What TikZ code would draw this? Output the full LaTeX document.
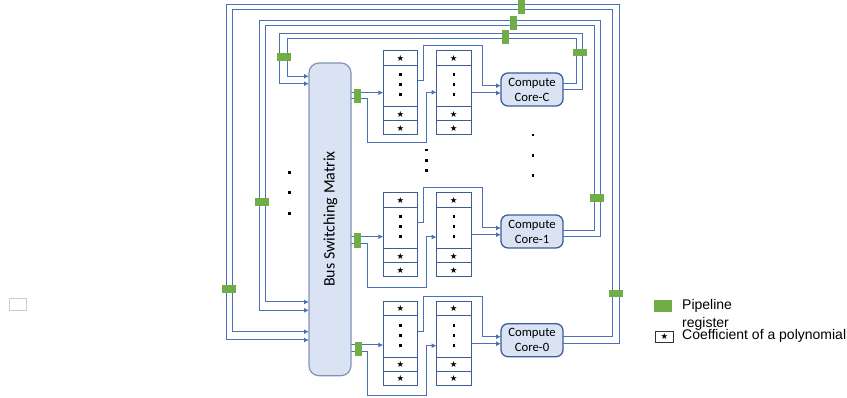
\documentclass[tikz,border=0pt]{standalone}
\usepackage{fontspec}
\setmainfont{Carlito}
\newfontfamily\arialf{Liberation Sans}
\newfontfamily\dejaf{DejaVu Sans}
\usetikzlibrary{arrows.meta,backgrounds}
\definecolor{wireblue}{HTML}{4A70BA}
\definecolor{boxblue}{HTML}{3E5C97}
\definecolor{corefill}{HTML}{DAE3F3}
\definecolor{busline}{HTML}{8093B5}
\definecolor{pipegreen}{HTML}{70AD47}
\tikzset{
  wire/.style={draw=wireblue,line width=1pt,line join=miter},
  arrowed/.style={-{Latex[length=5pt,width=5pt]}},
  cell/.style={draw=boxblue,fill=white,line width=1pt,inner sep=0pt,outer sep=0pt,minimum width=34.4pt,anchor=north west},
  starmark/.style={font=\dejaf\fontsize{8.5}{9}\selectfont,inner sep=0pt},
  dotmark/.style={fill=black,inner sep=0pt,minimum size=2.8pt,rectangle},
  reg/.style={fill=pipegreen,inner sep=0pt,outer sep=0pt},
  regv/.style={reg,minimum width=7pt,minimum height=14.4pt},
  regh/.style={reg,minimum width=14pt,minimum height=7.6pt},
  core/.style={draw=boxblue,fill=corefill,line width=1.3pt,rounded corners=7pt,minimum width=62pt,minimum height=33pt,inner sep=0pt,outer sep=0pt,anchor=north west,align=center,font=\fontsize{12.7}{15}\selectfont},
}
\begin{document}
\begin{tikzpicture}[x=1pt,y=-1pt]
\useasboundingbox (0,0) rectangle (847,398);
% stray box
\node[draw=black!20,fill=white,line width=1pt,minimum width=17pt,minimum height=12pt,inner sep=0pt,anchor=north west] (stray) at (8.5,298.3) {};
% bus
\node[draw=busline,fill=corefill,line width=1.2pt,rounded corners=10pt,minimum width=42pt,minimum height=312.7pt,inner sep=0pt,outer sep=0pt,anchor=north west] (bus) at (309,63) {};
\node[rotate=90,font=\fontsize{16}{18}\selectfont,inner sep=0pt] (buslabel) at (330.5,219) {Bus Switching Matrix};
% coefficient arrays
\foreach \b/\o in {C/0,M/142,Z/250.5}{
  \foreach \c/\x in {a/383.3,b/436.6}{
    \node[cell,minimum height=14.3pt] (\c\b1) at (\x,51+\o) {};
    \node[cell,minimum height=41.4pt] (\c\b2) at (\x,65.3+\o) {};
    \node[cell,minimum height=14pt]   (\c\b3) at (\x,106.7+\o) {};
    \node[cell,minimum height=14.3pt] (\c\b4) at (\x,120.7+\o) {};
    \node[starmark] (s\c\b1) at (\x+17.2,58.4+\o) {★};
    \node[starmark] (s\c\b3) at (\x+17.2,114+\o) {★};
    \node[starmark] (s\c\b4) at (\x+17.2,128.2+\o) {★};
    \node[dotmark] (d\c\b1) at (\x+17.4,74.7+\o) {};
    \node[dotmark] (d\c\b2) at (\x+17.4,84.7+\o) {};
    \node[dotmark] (d\c\b3) at (\x+17.4,94.7+\o) {};
  }
}
% cores
\node[core] (coreC) at (501,73) {Compute\\Core-C};
\node[core] (coreM) at (501,215) {Compute\\Core-1};
\node[core] (coreZ) at (501,323.7) {Compute\\Core-0};
% ellipsis dots
\foreach \n/\x/\y in {l1/289.3/172.3,l2/289.3/192.7,l3/289.3/213.3,m1/426.3/150,m2/426.3/160.3,m3/426.3/170.3,r1/533/135,r2/533/155.7,r3/533/175.7}
  \node[dotmark] (e\n) at (\x,\y) {};
% pipeline registers
\node[regv] (rT1) at (521.6,7) {};
\node[regv] (rT2) at (513.2,23) {};
\node[regv] (rT3) at (505.7,37.2) {};
\node[regh] (rRC) at (579.7,52.7) {};
\node[regh] (rLC) at (284,57.2) {};
\node[regh] (rLM) at (262,202.3) {};
\node[regh] (rLA) at (229,289) {};
\node[regh] (rRM) at (597,197.8) {};
\node[regh] (rRA) at (616.3,293.6) {};
\node[regv] (rBC) at (357.6,96.3) {};
\node[regv] (rBM) at (357.6,240.5) {};
\node[regv] (rBZ) at (358.3,349.2) {};
% legend
\node[reg,minimum width=18pt,minimum height=11.7pt,anchor=north west] (lgreen) at (654,300) {};
\node[anchor=north west,align=left,inner sep=0pt,font=\arialf\fontsize{14}{17.7}\selectfont] (ltext) at (682,299) {Pipeline\\register};
\node[draw=black!80,fill=white,line width=.9pt,minimum width=18pt,minimum height=11pt,inner sep=0pt,anchor=north west] (lbox) at (655,330.7) {};
\node[starmark] (lstar) at (lbox.center) {★};
\node[anchor=west,inner sep=0pt,font=\arialf\fontsize{14}{17}\selectfont] (lcoef) at (682,336) {Coefficient of a polynomial};
% port coordinates
\foreach \n/\x/\y in {
  oA/563/343.3,oB/563/336.3,oC/563/236.7,oD/563/230.3,oE/563/90,oF/563/83.7,
  iA/309/340,iB/309/331.7,iC/309/310.3,iD/309/302,iE/309/83.7,iF/309/76.3,
  bCa/351/92.7,bCb/351/98.7,bMa/351/236.7,bMb/351/243.3,bZa/351/345,bZb/351/351.7,
  pCa/383.3/92.7,pMa/383.3/236.7,pZa/383.3/345,
  qCb/436.6/92.3,qMb/436.6/237,qZb/436.6/345.7,
  uC/417.7/81,uM/417.7/222.7,uZ/417.7/331.7,
  cCu/501/85.7,cMu/501/228,cZu/501/336.7,
  vC/471/93,vM/471/234.7,vZ/471/343.7,
  cCl/501/93,cMl/501/234.7,cZl/501/343.7}
  \coordinate (\n) at (\x,\y);
\begin{scope}[on background layer]
  % feedback loops
  \draw[wire,arrowed] (oA) -- (619,343.3) -- (619,4.5) -- (226.5,4.5) -- (226.5,340) -- (iA);
  \draw[wire,arrowed] (oB) -- (612.7,336.3) -- (612.7,10) -- (232.7,10) -- (232.7,331.7) -- (iB);
  \draw[wire,arrowed] (oC) -- (600.3,236.7) -- (600.3,20.7) -- (259,20.7) -- (259,310.3) -- (iC);
  \draw[wire,arrowed] (oD) -- (594.3,230.3) -- (594.3,25.3) -- (265,25.3) -- (265,302) -- (iD);
  \draw[wire,arrowed] (oE) -- (582,90) -- (582,33.3) -- (279.3,33.3) -- (279.3,83.7) -- (iE);
  \draw[wire,arrowed] (oF) -- (576.3,83.7) -- (576.3,38.3) -- (287,38.3) -- (287,76.3) -- (iF);
  % bus to arrays
  \draw[wire,arrowed] (bCa) -- (pCa);
  \draw[wire,arrowed] (bMa) -- (pMa);
  \draw[wire,arrowed] (bZa) -- (pZa);
  \draw[wire,arrowed] (bCb) -- (367.3,98.7) -- (367.3,142.3) -- (426.3,142.3) -- (426.3,92.3) -- (qCb);
  \draw[wire,arrowed] (bMb) -- (367.3,243.3) -- (367.3,287.3) -- (426.3,287.3) -- (426.3,237) -- (qMb);
  \draw[wire,arrowed] (bZb) -- (367.3,351.7) -- (367.3,395) -- (426.3,395) -- (426.3,345.7) -- (qZb);
  % arrays to cores
  \draw[wire,arrowed] (uC) -- (423.7,81) -- (423.7,45.7) -- (482.3,45.7) -- (482.3,85.7) -- (cCu);
  \draw[wire,arrowed] (uM) -- (423.7,222.7) -- (423.7,187.7) -- (482.3,187.7) -- (482.3,228) -- (cMu);
  \draw[wire,arrowed] (uZ) -- (423.7,331.7) -- (423.7,296.3) -- (482.3,296.3) -- (482.3,336.7) -- (cZu);
  \draw[wire,arrowed] (vC) -- (cCl);
  \draw[wire,arrowed] (vM) -- (cMl);
  \draw[wire,arrowed] (vZ) -- (cZl);
\end{scope}
\end{tikzpicture}
\end{document}
